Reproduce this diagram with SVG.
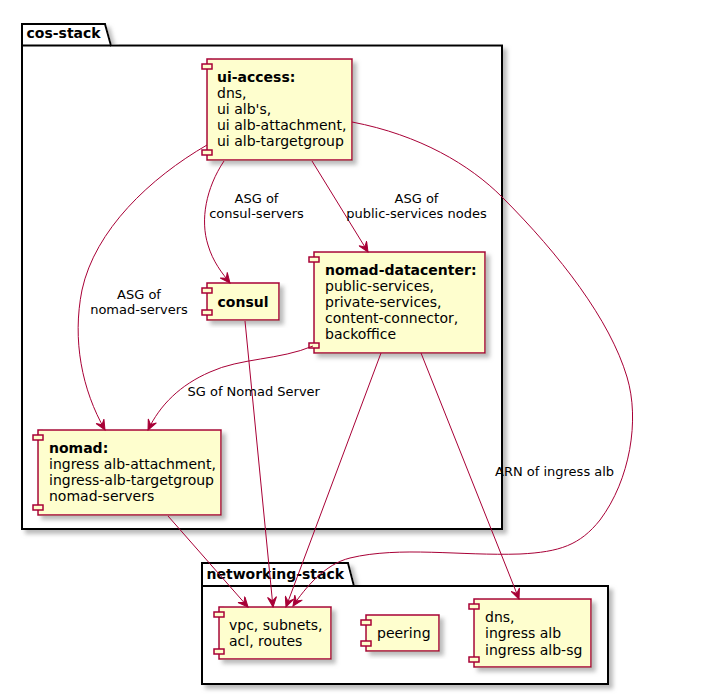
<svg xmlns="http://www.w3.org/2000/svg" width="703" height="695" viewBox="0 0 703 695">
<style>
text{font-family:"DejaVu Sans","Liberation Sans",sans-serif;fill:#000}
.pkg{fill:#fff;stroke:#000;stroke-width:2}
.pkgt{font-size:14px;font-weight:bold}
.comp{fill:#FEFECE;stroke:#A80036;stroke-width:1.5}
.ct{font-size:14px}
.b{font-weight:bold}
.lbl{font-size:13px}
.edge{fill:none;stroke:#A80036;stroke-width:1}
</style>
<defs>
<filter id="sh" x="-10%" y="-10%" width="130%" height="130%">
<feGaussianBlur in="SourceAlpha" stdDeviation="2" result="b"/>
<feColorMatrix in="b" type="matrix" values="0 0 0 0 0.4 0 0 0 0 0.4 0 0 0 0 0.4 0 0 0 0.8 0" result="g"/>
<feOffset in="g" dx="4" dy="4" result="o"/>
<feMerge><feMergeNode in="o"/><feMergeNode in="SourceGraphic"/></feMerge>
</filter>
<marker id="ah" viewBox="-11 -5 12 10" refX="0" refY="0" markerWidth="12" markerHeight="10" markerUnits="userSpaceOnUse" orient="auto">
<path d="M0,0 L-10,-4.5 L-6,0 L-10,4.5 Z" fill="#A80036" stroke="#A80036" stroke-width="1"/>
</marker>
</defs>

<g id="cos-stack">
<polygon class="pkg" filter="url(#sh)" points="22,24 105,24 111,45.5 502,45.5 502,529 22,529"/>
<line x1="22" y1="45.5" x2="111" y2="45.5" stroke="#000" stroke-width="2"/>
<text class="pkgt" x="26.5" y="38">cos-stack</text>
</g>

<g id="networking-stack">
<polygon class="pkg" filter="url(#sh)" points="202,563 348,563 354,586 608,586 608,684 202,684"/>
<line x1="202" y1="586" x2="354" y2="586" stroke="#000" stroke-width="2"/>
<text class="pkgt" x="206.5" y="578.5">networking-stack</text>
</g>

<g id="ui-access">
<rect class="comp" filter="url(#sh)" x="207" y="59" width="145" height="101"/>
<rect class="comp" x="202" y="64" width="10" height="5"/>
<rect class="comp" x="202" y="150" width="10" height="5"/>
<text class="ct" x="217" y="81.5"><tspan class="b">ui-access:</tspan><tspan x="217" y="97.5">dns,</tspan><tspan x="217" y="113.5">ui alb's,</tspan><tspan x="217" y="130">ui alb-attachment,</tspan><tspan x="217" y="146">ui alb-targetgroup</tspan></text>
</g>

<g id="consul">
<rect class="comp" filter="url(#sh)" x="207" y="283" width="72" height="37"/>
<rect class="comp" x="202" y="288" width="10" height="5"/>
<rect class="comp" x="202" y="310" width="10" height="5"/>
<text class="ct b" x="217.5" y="306.5">consul</text>
</g>

<g id="nomad-datacenter">
<rect class="comp" filter="url(#sh)" x="314" y="252" width="171" height="101"/>
<rect class="comp" x="309" y="257" width="10" height="5"/>
<rect class="comp" x="309" y="343" width="10" height="5"/>
<text class="ct" x="325" y="274.5"><tspan class="b">nomad-datacenter:</tspan><tspan x="325" y="290.5">public-services,</tspan><tspan x="325" y="306.5">private-services,</tspan><tspan x="325" y="323">content-connector,</tspan><tspan x="325" y="339">backoffice</tspan></text>
</g>

<g id="nomad">
<rect class="comp" filter="url(#sh)" x="38" y="430" width="183" height="85"/>
<rect class="comp" x="33" y="435" width="10" height="5"/>
<rect class="comp" x="33" y="505" width="10" height="5"/>
<text class="ct" x="49" y="452.5"><tspan class="b">nomad:</tspan><tspan x="49" y="468.5">ingress alb-attachment,</tspan><tspan x="49" y="485">ingress-alb-targetgroup</tspan><tspan x="49" y="501">nomad-servers</tspan></text>
</g>

<g id="vpc">
<rect class="comp" filter="url(#sh)" x="219" y="607" width="112" height="52"/>
<rect class="comp" x="214" y="612" width="10" height="5"/>
<rect class="comp" x="214" y="649" width="10" height="5"/>
<text class="ct" x="229" y="630"><tspan>vpc, subnets,</tspan><tspan x="229" y="646">acl, routes</tspan></text>
</g>

<g id="peering">
<rect class="comp" filter="url(#sh)" x="366" y="615" width="73" height="36"/>
<rect class="comp" x="361" y="620" width="10" height="5"/>
<rect class="comp" x="361" y="641" width="10" height="5"/>
<text class="ct" x="377" y="637.5">peering</text>
</g>

<g id="dns-ingress">
<rect class="comp" filter="url(#sh)" x="474" y="599" width="117" height="68"/>
<rect class="comp" x="469" y="604" width="10" height="5"/>
<rect class="comp" x="469" y="657" width="10" height="5"/>
<text class="ct" x="485" y="622"><tspan>dns,</tspan><tspan x="485" y="638">ingress alb</tspan><tspan x="485" y="654.5">ingress alb-sg</tspan></text>
</g>

<g id="connectors">
<path class="edge" marker-end="url(#ah)" d="M207,145 C150,178 95,230 82,290 C72,340 82,390 105,430"/>
<path class="edge" marker-end="url(#ah)" d="M224,161 C206,188 200,220 208,245 C213,262 222,273 230,283"/>
<path class="edge" marker-end="url(#ah)" d="M312,161 L368,252"/>
<path class="edge" marker-end="url(#ah)" d="M352,122 C420,135 470,165 502,197 C560,255 610,320 627,377 C640,420 630,480 600,520 C580,545 560,552 520,554 C460,556 400,546 350,558 C325,564 305,588 293,606"/>
<path class="edge" marker-end="url(#ah)" d="M245,321 L273,607"/>
<path class="edge" marker-end="url(#ah)" d="M313,346 C280,360 240,358 210,372 C180,385 160,405 148,430"/>
<path class="edge" marker-end="url(#ah)" d="M381,353 L286,607"/>
<path class="edge" marker-end="url(#ah)" d="M421,353 L519,599"/>
<path class="edge" marker-end="url(#ah)" d="M168,516 L248,607"/>
<text class="lbl" x="139" y="299" text-anchor="middle">ASG of</text>
<text class="lbl" x="139" y="314" text-anchor="middle">nomad-servers</text>
<text class="lbl" x="256.5" y="202.5" text-anchor="middle">ASG of</text>
<text class="lbl" x="256.5" y="217.5" text-anchor="middle">consul-servers</text>
<text class="lbl" x="416.5" y="202.5" text-anchor="middle">ASG of</text>
<text class="lbl" x="416.5" y="217.5" text-anchor="middle">public-services nodes</text>
<text class="lbl" x="187.5" y="396">SG of Nomad Server</text>
<text class="lbl" x="495" y="476">ARN of ingress alb</text>
</g>
</svg>
